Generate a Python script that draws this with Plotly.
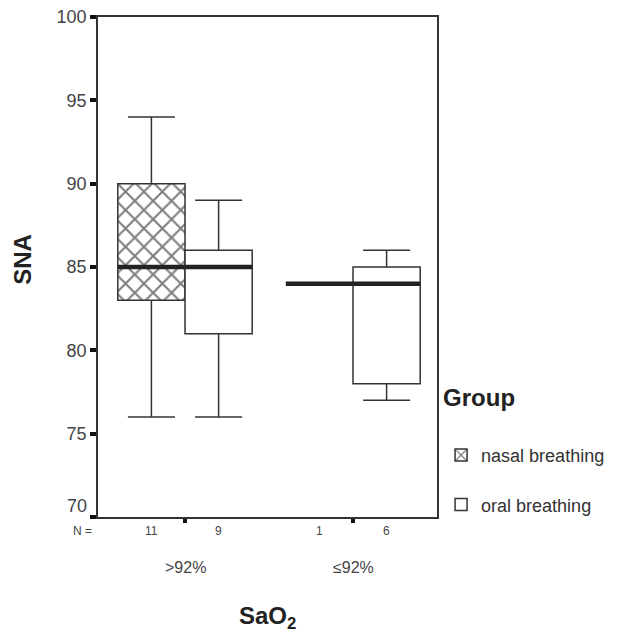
import plotly.graph_objects as go

# ---- data ----
groups = [">92%", "≤92%"]
n_nasal = [11, 1]
n_oral = [9, 6]
nasal_min = [76, 84]
nasal_q1 = [83, 84]
nasal_med = [85, 84]
nasal_q3 = [90, 84]
nasal_max = [94, 84]
oral_min = [76, 77]
oral_q1 = [81, 78]
oral_med = [85, 84]
oral_q3 = [86, 85]
oral_max = [89, 86]
y_ticks = [70, 75, 80, 85, 90, 95, 100]

FONT = "Arial, Liberation Sans, sans-serif"
LINE = "#333333"
HALF = 0.2
CAP = 0.14
OFF = 0.2

fig = go.Figure()

series = [
    ("nasal breathing", -OFF, nasal_min, nasal_q1, nasal_med, nasal_q3, nasal_max, n_nasal, True),
    ("oral breathing", OFF, oral_min, oral_q1, oral_med, oral_q3, oral_max, n_oral, False),
]

for name, off, mn, q1, md, q3, mx, ns, hatch in series:
    xs = [i + off for i in range(len(groups))]
    bx = [x for x, a, b in zip(xs, q1, q3) if b > a]
    bb = [a for a, b in zip(q1, q3) if b > a]
    bh = [b - a for a, b in zip(q1, q3) if b > a]
    marker = dict(color="white", line=dict(color=LINE, width=1.5))
    if hatch:
        marker["pattern"] = dict(shape="x", size=13, solidity=0.3,
                                 fgcolor="#000000", bgcolor="white")
    fig.add_trace(go.Bar(x=bx, y=bh, base=bb, width=2 * HALF, name=name,
                         marker=marker, legendgroup=name, showlegend=True))
    wx, wy = [], []
    for x, a, lo, hi, b in zip(xs, q1, mn, mx, q3):
        if hi > b:
            wx += [x, x, None, x - CAP, x + CAP, None]
            wy += [b, hi, None, hi, hi, None]
        if a > lo:
            wx += [x, x, None, x - CAP, x + CAP, None]
            wy += [a, lo, None, lo, lo, None]
    fig.add_trace(go.Scatter(x=wx, y=wy, mode="lines", line=dict(color=LINE, width=1.5),
                             showlegend=False, hoverinfo="skip", legendgroup=name))
    mxs, mys = [], []
    for x, m in zip(xs, md):
        mxs += [x - HALF, x + HALF, None]
        mys += [m, m, None]
    fig.add_trace(go.Scatter(x=mxs, y=mys, mode="lines", line=dict(color="#222222", width=4.5),
                             showlegend=False, hoverinfo="skip", legendgroup=name))
    for x, n in zip(xs, ns):
        fig.add_annotation(x=x, y=-0.028, xref="x", yref="paper", text=str(n),
                           showarrow=False, font=dict(family=FONT, size=12, color="#444"),
                           yanchor="middle")

for i, g in enumerate(groups):
    fig.add_annotation(x=i, y=-0.1, xref="x", yref="paper", text=g, showarrow=False,
                       font=dict(family=FONT, size=16, color="#444"), yanchor="middle")

# lowest y tick label sits slightly above its tick (to clear the N row)
fig.add_annotation(x=-0.028, y=y_ticks[0], xref="paper", yref="y", yshift=11,
                   text=str(y_ticks[0]), showarrow=False, xanchor="right", yanchor="middle",
                   font=dict(family=FONT, size=18, color="#444"))
fig.add_annotation(x=-0.012, y=-0.028, xref="paper", yref="paper", text="N =",
                   showarrow=False, xanchor="right", yanchor="middle",
                   font=dict(family=FONT, size=12, color="#444"))
fig.add_annotation(x=0.5, y=-0.2, xref="paper", yref="paper", text="<b>SaO<sub>2</sub></b>",
                   showarrow=False, xanchor="center", yanchor="middle",
                   font=dict(family=FONT, size=24, color="#222"))
fig.add_annotation(x=-0.225, y=0.516, xref="paper", yref="paper", text="<b>SNA</b>",
                   showarrow=False, textangle=-90, xanchor="center", yanchor="middle",
                   font=dict(family=FONT, size=24, color="#222"))

fig.update_layout(
    width=618, height=639,
    margin=dict(l=90, r=189, t=9, b=130),
    plot_bgcolor="white", paper_bgcolor="white",
    barmode="overlay",
    font=dict(family=FONT, color="#333"),
    legend=dict(
        title=dict(text="<b>Group</b><br><span style='font-size:12px'> </span>",
                   font=dict(family=FONT, size=24, color="#222")),
        font=dict(family=FONT, size=18, color="#333"),
        x=1.012, xanchor="left", y=0.285, yanchor="top",
        tracegroupgap=23, bgcolor="rgba(0,0,0,0)",
    ),
    xaxis=dict(range=[-0.518, 1.5], tickvals=[0, 1], showticklabels=False,
               ticks="outside", ticklen=4, tickwidth=4, tickcolor="#111",
               showline=True, linecolor=LINE, linewidth=1.5, mirror=True,
               showgrid=False, zeroline=False, automargin=False),
    yaxis=dict(range=[70, 100], tickvals=y_ticks,
               ticktext=[""] + [str(v) for v in y_ticks[1:]],
               ticks="outside", ticklen=6, tickwidth=4,
               tickcolor="#111", showline=True, linecolor=LINE, linewidth=1.5, mirror=True,
               showgrid=False, zeroline=False, automargin=False,
               ticklabeloverflow="allow",
               tickfont=dict(family=FONT, size=18, color="#444")),
)

fig.write_html("out.html")
